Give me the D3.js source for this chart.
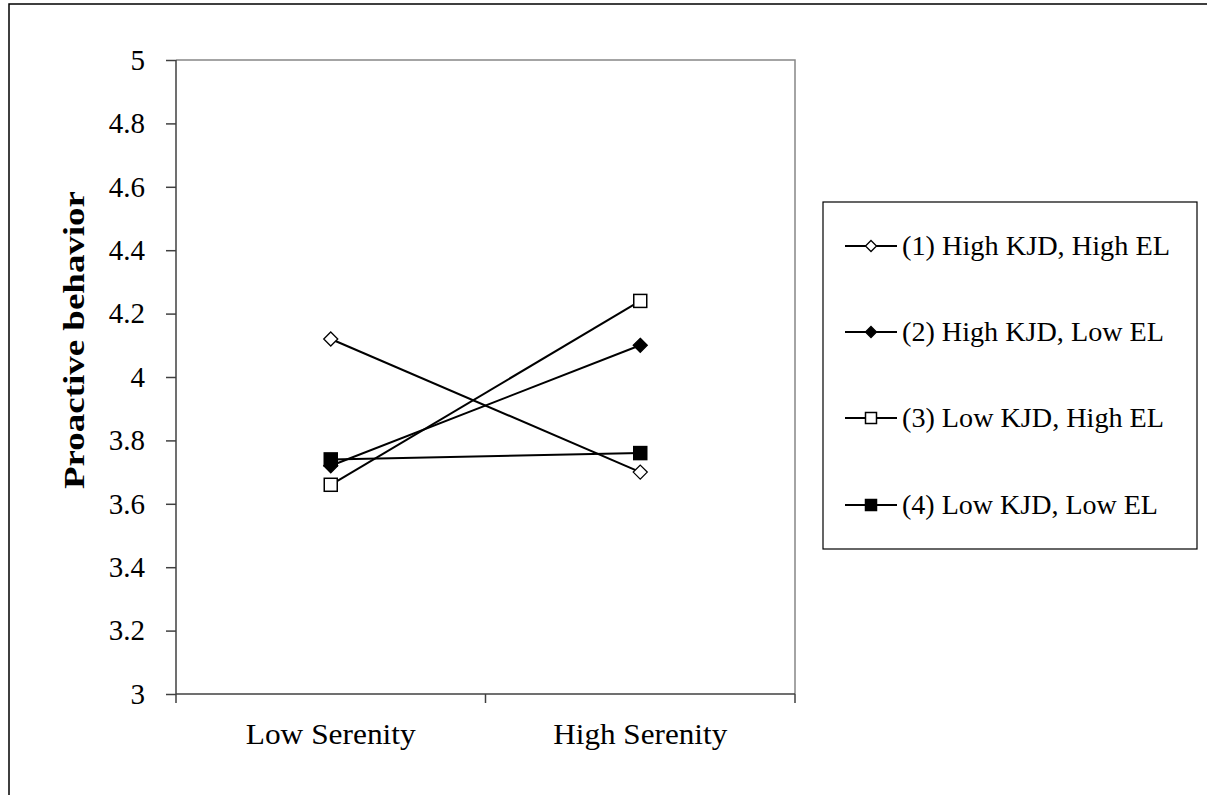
<!DOCTYPE html>
<html>
<head>
<meta charset="utf-8">
<script src="https://cdn.jsdelivr.net/npm/d3@7"></script>
<style>
  body { margin: 0; background: #fff; }
  text { font-family: "Liberation Serif", "Times New Roman", serif; fill: #000; }
</style>
</head>
<body>
<div id="canvas"></div>
<script>
"use strict";

/* Data */
let categories = ["Low Serenity", "High Serenity"];
let seriesNames = [
  "(1) High KJD, High EL",
  "(2) High KJD, Low EL",
  "(3) Low KJD, High EL",
  "(4) Low KJD, Low EL"
];
let series1 = [4.12, 3.70];
let series2 = [3.72, 4.10];
let series3 = [3.66, 4.24];
let series4 = [3.74, 3.76];
let yTicks = [3, 3.2, 3.4, 3.6, 3.8, 4, 4.2, 4.4, 4.6, 4.8, 5];

let allSeries = [series1, series2, series3, series4];
// marker shape and fill for each series
let markerShapes = ["diamond", "diamond", "square", "square"];
let markerFilled = [false, true, false, true];

/* Drawing config */
let svgWidth = 1207;
let svgHeight = 795;
let plotLeft = 176;
let plotRight = 795;
let plotTop = 60;
let plotBottom = 694;

let svg = d3.select("#canvas")
  .append("svg")
  .attr("width", svgWidth)
  .attr("height", svgHeight);

/* outer frame, only left and top show in the picture */
svg.append("rect")
  .attr("x", 9)
  .attr("y", 4)
  .attr("width", svgWidth + 20)
  .attr("height", svgHeight + 20)
  .attr("fill", "none")
  .attr("stroke", "#000")
  .attr("stroke-width", 1.5);

let xScale = d3.scaleBand()
  .domain(categories)
  .range([plotLeft, plotRight]);

let yScale = d3.scaleLinear()
  .domain([3, 5])
  .range([plotBottom, plotTop]);

function xPos(i) {
  return xScale(categories[i]) + xScale.bandwidth() / 2;
}

/* grey border on top and right of plot area */
svg.append("path")
  .attr("d", "M" + plotLeft + "," + plotTop + "H" + plotRight + "V" + plotBottom)
  .attr("fill", "none")
  .attr("stroke", "#868686")
  .attr("stroke-width", 1.5);

/* Y axis */
let yAxis = svg.append("g")
  .attr("transform", "translate(" + plotLeft + ",0)")
  .call(d3.axisLeft(yScale)
    .tickValues(yTicks)
    .tickSize(10)
    .tickPadding(21)
    .tickFormat(d3.format("~g")));
yAxis.selectAll("path, line").attr("stroke", "#404040").attr("stroke-width", 1.5);
yAxis.select(".domain").attr("d", "M0," + plotTop + "V" + plotBottom);
yAxis.selectAll("text")
  .attr("font-size", "29px")
  .attr("font-family", "Liberation Serif, serif");

/* X axis: ticks sit between the categories */
let xAxis = svg.append("g")
  .attr("transform", "translate(0," + plotBottom + ")");
xAxis.append("line")
  .attr("x1", plotLeft)
  .attr("x2", plotRight)
  .attr("stroke", "#404040")
  .attr("stroke-width", 1.5);
let xEdges = [plotLeft].concat(categories.map(function (c) { return xScale(c) + xScale.bandwidth(); }));
xEdges.forEach(function (ex) {
  xAxis.append("line")
    .attr("x1", ex).attr("x2", ex)
    .attr("y1", 0).attr("y2", 9)
    .attr("stroke", "#404040")
    .attr("stroke-width", 1.5);
});
categories.forEach(function (c, i) {
  xAxis.append("text")
    .attr("x", xPos(i))
    .attr("y", 50)
    .attr("text-anchor", "middle")
    .attr("font-size", "29px")
    .attr("textLength", i === 0 ? 170 : 174)
    .attr("lengthAdjust", "spacingAndGlyphs")
    .text(c);
});

/* Y axis label */
svg.append("text")
  .attr("transform", "translate(84,340) rotate(-90)")
  .attr("text-anchor", "middle")
  .attr("font-size", "30px")
  .attr("font-weight", "bold")
  .attr("textLength", 298)
  .attr("lengthAdjust", "spacingAndGlyphs")
  .text("Proactive behavior");

/* markers */
function drawMarker(g, shape, filled, cx, cy, size) {
  let half = size / 2;
  if (shape === "diamond") {
    g.append("path")
      .attr("d", "M" + cx + "," + (cy - half) + "L" + (cx + half) + "," + cy +
        "L" + cx + "," + (cy + half) + "L" + (cx - half) + "," + cy + "Z")
      .attr("fill", filled ? "#000" : "#fff")
      .attr("stroke", "#000")
      .attr("stroke-width", 1.3);
  } else {
    g.append("rect")
      .attr("x", cx - half)
      .attr("y", cy - half)
      .attr("width", size)
      .attr("height", size)
      .attr("fill", filled ? "#000" : "#fff")
      .attr("stroke", "#000")
      .attr("stroke-width", 1.5);
  }
}

let line = d3.line()
  .x(function (d, i) { return xPos(i); })
  .y(function (d) { return yScale(d); });

let plot = svg.append("g");
allSeries.forEach(function (values) {
  plot.append("path")
    .datum(values)
    .attr("d", line)
    .attr("fill", "none")
    .attr("stroke", "#000")
    .attr("stroke-width", 2);
});
allSeries.forEach(function (values, s) {
  values.forEach(function (v, i) {
    let size = markerShapes[s] === "diamond" ? 14 : 13;
    drawMarker(plot, markerShapes[s], markerFilled[s], xPos(i), yScale(v), size);
  });
});

/* Legend */
let legendX = 823;
let legendY = 202;
svg.append("rect")
  .attr("x", legendX)
  .attr("y", legendY)
  .attr("width", 374)
  .attr("height", 347)
  .attr("fill", "none")
  .attr("stroke", "#000")
  .attr("stroke-width", 1.2);

let legendRows = [246, 332, 418, 505];
let legendTextLen = [268, 262, 262, 256];
seriesNames.forEach(function (name, s) {
  let ry = legendRows[s];
  svg.append("line")
    .attr("x1", 845).attr("x2", 897)
    .attr("y1", ry).attr("y2", ry)
    .attr("stroke", "#000")
    .attr("stroke-width", 2);
  drawMarker(svg, markerShapes[s], markerFilled[s], 871, ry, 11);
  svg.append("text")
    .attr("x", 902)
    .attr("y", ry + 9)
    .attr("font-size", "27px")
    .attr("textLength", legendTextLen[s])
    .attr("lengthAdjust", "spacingAndGlyphs")
    .text(name);
});
</script>
</body>
</html>
